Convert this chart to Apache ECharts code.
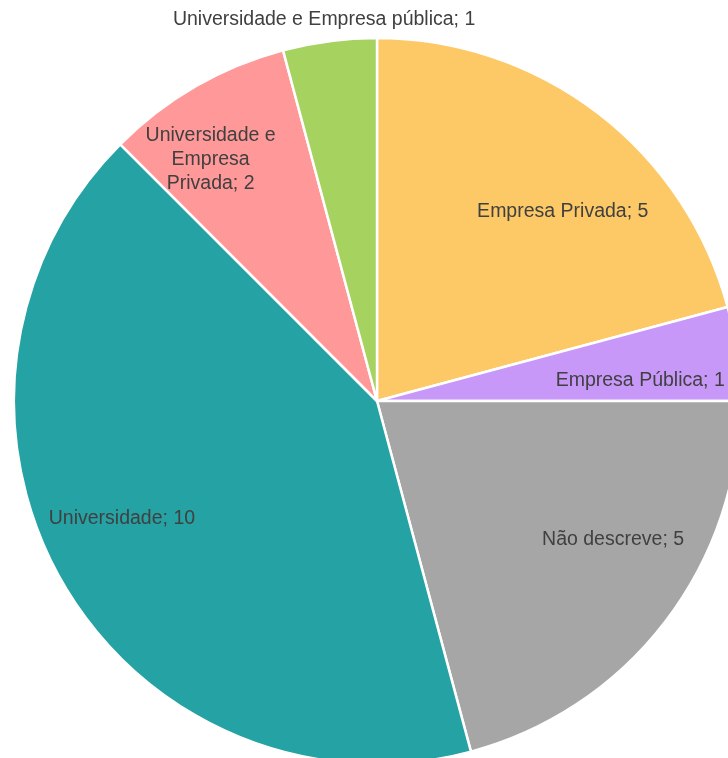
<!DOCTYPE html>
<html>
<head>
<meta charset="utf-8">
<script src="https://cdn.jsdelivr.net/npm/echarts@6/dist/echarts.min.js"></script>
<style>
  html, body { margin: 0; padding: 0; background: #ffffff; }
  #chart { width: 728px; height: 758px; }
</style>
</head>
<body>
<div id="chart"></div>
<script>
// Categories and counts, clockwise from the top
const categories = [
  'Empresa Privada',
  'Empresa Pública',
  'Não descreve',
  'Universidade',
  'Universidade e\nEmpresa\nPrivada',
  'Universidade e Empresa pública'
];
const counts = [5, 1, 5, 10, 2, 1];
const colors = ['#FDC966', '#C898F9', '#A6A6A6', '#25A2A4', '#FF9898', '#A6D25F'];

// Label placement: angle (deg, clockwise from top) and distance from centre (px)
const labelAngle = [44.5, 85.6, 120.5, 245.2, 325.4, 352.1];
const labelDist = [265, 264, 274, 281, 293, 385];

const cx = 377, cy = 401, R = 363;

const chart = echarts.init(document.getElementById('chart'), null, { renderer: 'canvas' });

chart.setOption({
  animation: false,
  series: [{
    type: 'pie',
    center: [cx, cy],
    radius: R,
    startAngle: 90,
    clockwise: true,
    avoidLabelOverlap: false,
    itemStyle: { borderColor: '#ffffff', borderWidth: 2.5 },
    label: {
      show: true,
      position: 'inside',
      formatter: p => p.name + '; ' + p.value,
      color: '#404040',
      fontFamily: 'Liberation Sans, Arial, sans-serif',
      fontSize: 19.5,
      lineHeight: 24,
      align: 'center',
      verticalAlign: 'middle'
    },
    labelLine: { show: false },
    emphasis: { disabled: true },
    labelLayout: function (p) {
      const i = p.dataIndex;
      const a = labelAngle[i] * Math.PI / 180;
      return {
        x: cx + labelDist[i] * Math.sin(a),
        y: cy - labelDist[i] * Math.cos(a),
        align: 'center',
        verticalAlign: 'middle'
      };
    },
    data: categories.map((c, i) => ({
      name: c,
      value: counts[i],
      itemStyle: { color: colors[i] }
    }))
  }]
});
</script>
</body>
</html>
